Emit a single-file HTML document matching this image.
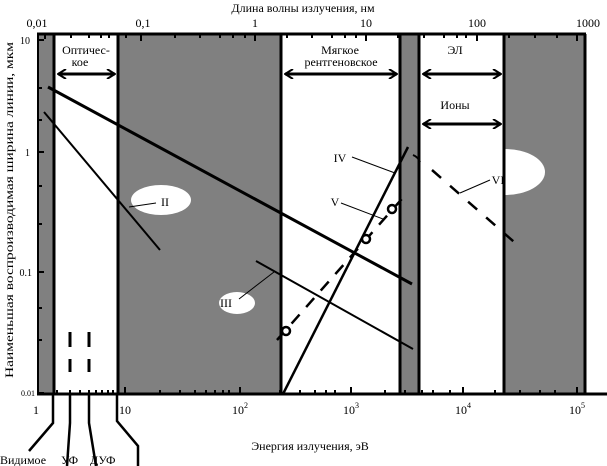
<!DOCTYPE html>
<html><head><meta charset="utf-8"><style>html,body{margin:0;padding:0;background:#fff}svg{display:block}text{font-family:"Liberation Serif",serif;fill:#000}</style></head><body>
<svg width="607" height="466" viewBox="0 0 607 466" xmlns="http://www.w3.org/2000/svg">
<defs>
<marker id="ar" markerWidth="10" markerHeight="10" refX="9" refY="5" orient="auto-start-reverse" markerUnits="userSpaceOnUse"><path d="M1,0 L9,5 L1,10" fill="none" stroke="#000" stroke-width="2"/></marker>
</defs>
<rect x="38" y="34" width="16" height="360" fill="#808080"/>
<rect x="118" y="34" width="163" height="360" fill="#808080"/>
<rect x="400" y="34" width="19" height="360" fill="#808080"/>
<rect x="504" y="34" width="81" height="360" fill="#808080"/>
<ellipse cx="161" cy="200" rx="30" ry="15" fill="#fff"/>
<ellipse cx="237" cy="303" rx="18" ry="11" fill="#fff"/>
<ellipse cx="505" cy="172" rx="40" ry="23" fill="#fff"/>
<g stroke="#000" stroke-width="3" fill="none">
<line x1="37" y1="34" x2="586" y2="34"/>
<line x1="37" y1="394" x2="607" y2="394"/>
<line x1="38" y1="34" x2="38" y2="394" stroke-width="2"/>
<line x1="54" y1="34" x2="54" y2="394"/>
<line x1="118" y1="34" x2="118" y2="394"/>
<line x1="281" y1="34" x2="281" y2="394"/>
<line x1="400" y1="34" x2="400" y2="394"/>
<line x1="419" y1="34" x2="419" y2="394"/>
<line x1="504" y1="34" x2="504" y2="394"/>
<line x1="585" y1="34" x2="585" y2="394"/>
</g>
<g stroke="#000" stroke-width="2">
<path d="M45,34v5M71,34v4M89,34v4M101,34v4M109,34v4M126,34v4M141,34v7M175,34v4M200,34v4M220,34v4M233,34v4M245,34v4M255,34v7M287,34v4M312,34v4M332,34v4M345,34v4M356,34v4M366,34v7M398,34v4M424,34v4M444,34v4M457,34v4M466,34v4M477,34v7M509,34v4M535,34v4M557,34v4M577,34v7"/>
<path d="M57,394v-4M70,394v-4M80,394v-4M89,394v-4M96,394v-4M102,394v-4M108,394v-4M113,394v-4M125,394v-7M160,394v-4M180,394v-4M195,394v-4M206,394v-4M215,394v-4M223,394v-4M229,394v-4M240,394v-7M280,394v-4M300,394v-4M315,394v-4M326,394v-4M335,394v-4M351,394v-7M385,394v-4M405,394v-4M422,394v-4M433,394v-4M450,394v-4M463,394v-7M495,394v-4M520,394v-4M540,394v-4M555,394v-4M577,394v-7"/>
<path d="M38,40h6M38,88h4M38,120h4M38,152h6M38,186h4M38,224h4M38,272h6M38,308h4M38,340h4M38,393h6"/>
</g>
<g stroke="#000" fill="none">
<line x1="48" y1="87" x2="412" y2="284" stroke-width="3"/>
<line x1="44" y1="112" x2="160" y2="250" stroke-width="2"/>
<line x1="256" y1="261" x2="413" y2="349" stroke-width="2"/>
<line x1="283" y1="394" x2="408" y2="147" stroke-width="2.5"/>
<line x1="277" y1="340" x2="408" y2="192" stroke-width="2.5" stroke-dasharray="12,10"/>
<path d="M413,155 Q418,157 420,162" stroke-width="2"/>
<line x1="432" y1="170" x2="521" y2="248" stroke-width="2.5" stroke-dasharray="12,12"/>
<line x1="70" y1="332" x2="70" y2="372" stroke-width="3" stroke-dasharray="15,12"/>
<line x1="89" y1="332" x2="89" y2="372" stroke-width="3" stroke-dasharray="15,12"/>
<g stroke-width="1">
<line x1="129" y1="207" x2="156" y2="203"/>
<line x1="239" y1="299" x2="274" y2="272"/>
<line x1="352" y1="157" x2="395" y2="173"/>
<line x1="341" y1="203" x2="383" y2="219"/>
<line x1="460" y1="193" x2="490" y2="180"/>
</g>
</g>
<g fill="#fff" stroke="#000" stroke-width="2.5">
<circle cx="286" cy="331" r="4"/>
<circle cx="366" cy="239" r="4"/>
<circle cx="392" cy="209" r="4"/>
</g>
<g stroke="#000" stroke-width="3" fill="none">
<line x1="58" y1="74" x2="115" y2="74" marker-start="url(#ar)" marker-end="url(#ar)"/>
<line x1="285" y1="74" x2="397" y2="74" marker-start="url(#ar)" marker-end="url(#ar)"/>
<line x1="423" y1="74" x2="501" y2="74" marker-start="url(#ar)" marker-end="url(#ar)"/>
<line x1="423" y1="124" x2="501" y2="124" marker-start="url(#ar)" marker-end="url(#ar)"/>
</g>
<g stroke="#000" stroke-width="2.5" fill="none">
<polyline points="53,395 53,423 29,451"/>
<polyline points="70,395 70,423 67,466"/>
<polyline points="89,395 89,423 96,466"/>
<polyline points="117,395 117,421 138,446 138,466"/>
</g>
<g font-size="12">
<text x="303" y="12" text-anchor="middle">Длина  волны излучения, нм</text>
<text x="37" y="27" text-anchor="middle">0,01</text>
<text x="143" y="27" text-anchor="middle">0,1</text>
<text x="255" y="27" text-anchor="middle">1</text>
<text x="366" y="27" text-anchor="middle">10</text>
<text x="477" y="27" text-anchor="middle">100</text>
<text x="588" y="27" text-anchor="middle">1000</text>
<text x="86" y="54" text-anchor="middle">Оптичес-</text>
<text x="80" y="66" text-anchor="middle">кое</text>
<text x="340" y="54" text-anchor="middle">Мягкое</text>
<text x="341" y="66" text-anchor="middle">рентгеновское</text>
<text x="455" y="54" text-anchor="middle">ЭЛ</text>
<text x="455" y="109" text-anchor="middle">Ионы</text>
<text x="165" y="206" text-anchor="middle">II</text>
<text x="226" y="307" text-anchor="middle">III</text>
<text x="340" y="162" text-anchor="middle">IV</text>
<text x="335" y="206" text-anchor="middle">V</text>
<text x="498" y="184" text-anchor="middle">VI</text>
<text x="30" y="44" text-anchor="end" font-size="10">10</text>
<text x="30" y="156" text-anchor="end" font-size="10">1</text>
<text x="32" y="276" text-anchor="end" font-size="10">0.1</text>
<text x="35" y="396" text-anchor="end" font-size="8">0.01</text>
<text x="36" y="414" text-anchor="middle">1</text>
<text x="125" y="414" text-anchor="middle">10</text>
<text x="240" y="414" text-anchor="middle">10<tspan font-size="8" dy="-6">2</tspan></text>
<text x="351" y="414" text-anchor="middle">10<tspan font-size="8" dy="-6">3</tspan></text>
<text x="463" y="414" text-anchor="middle">10<tspan font-size="8" dy="-6">4</tspan></text>
<text x="577" y="414" text-anchor="middle">10<tspan font-size="8" dy="-6">5</tspan></text>
<text x="310" y="450" text-anchor="middle">Энергия  излучения, эВ</text>
<text x="0" y="464">Видимое</text>
<text x="61" y="464">УФ</text>
<text x="90" y="464">ДУФ</text>
<text transform="translate(13,210) rotate(-90)" text-anchor="middle" font-size="12" textLength="336" lengthAdjust="spacingAndGlyphs">Наименьшая воспроизводимая ширина линии, мкм</text>
</g>
</svg>
</body></html>
